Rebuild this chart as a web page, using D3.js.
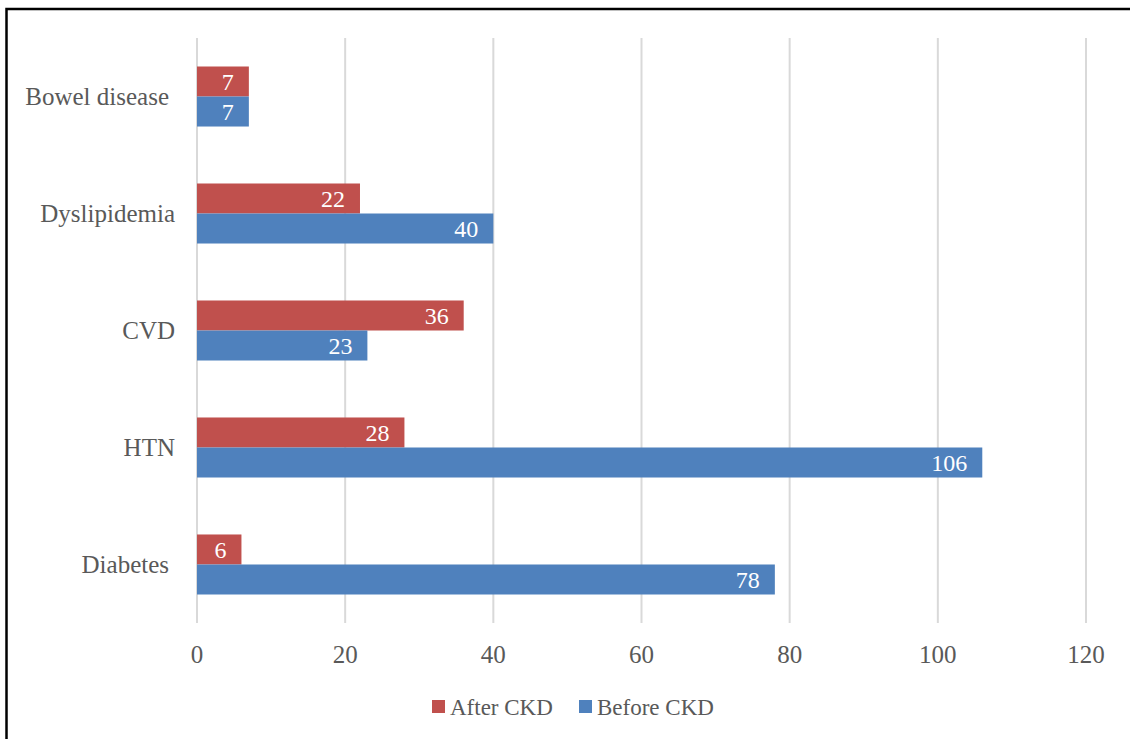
<!DOCTYPE html>
<html>
<head>
<meta charset="utf-8">
<script src="https://cdn.jsdelivr.net/npm/d3@7"></script>
<style>
  body { margin: 0; background: #fff; }
  svg text { font-family: "Liberation Serif", "Times New Roman", serif; }
</style>
</head>
<body>
<div id="chart"></div>
<script>
"use strict";

// categories from top to bottom, as drawn
var categories = ["Bowel disease", "Dyslipidemia", "CVD", "HTN", "Diabetes"];
var afterCKD = [7, 22, 36, 28, 6];
var beforeCKD = [7, 40, 23, 106, 78];
var seriesNames = ["After CKD", "Before CKD"];
var xTicks = [0, 20, 40, 60, 80, 100, 120];

var W = 1130, H = 739;
var colors = { "After CKD": "#C0504D", "Before CKD": "#4F81BD" };
var textColor = "#595959";

var svg = d3.select("#chart").append("svg")
  .attr("width", W)
  .attr("height", H);

// outer frame of the chart area (only left and top are visible in the picture)
svg.append("rect")
  .attr("x", 6.5)
  .attr("y", 9)
  .attr("width", W + 20)
  .attr("height", H + 20)
  .attr("fill", "none")
  .attr("stroke", "#000")
  .attr("stroke-width", 2.5);

var x = d3.scaleLinear()
  .domain([0, 120])
  .range([197, 1086]);

var y = d3.scaleBand()
  .domain(categories)
  .range([38, 623])
  .paddingInner(0.487)
  .paddingOuter(0.2436);

var yInner = d3.scaleBand()
  .domain(seriesNames)
  .range([0, y.bandwidth()]);

// gridlines
svg.append("g")
  .selectAll("line")
  .data(xTicks)
  .enter().append("line")
    .attr("x1", function(d) { return x(d); })
    .attr("x2", function(d) { return x(d); })
    .attr("y1", 38)
    .attr("y2", 623)
    .attr("stroke", "#D9D9D9")
    .attr("stroke-width", 2);

// tick labels
svg.append("g")
  .selectAll("text")
  .data(xTicks)
  .enter().append("text")
    .attr("x", function(d) { return x(d); })
    .attr("y", 663)
    .attr("text-anchor", "middle")
    .attr("font-size", "25px")
    .attr("fill", textColor)
    .text(function(d) { return d; });

// category labels
svg.append("g")
  .selectAll("text")
  .data(categories)
  .enter().append("text")
    .attr("x", function(d) { return (d === "Bowel disease" || d === "Diabetes") ? 169 : 175; })
    .attr("y", function(d) { return y(d) + y.bandwidth() / 2; })
    .attr("dy", "0.35em")
    .attr("text-anchor", "end")
    .attr("font-size", "25px")
    .attr("fill", textColor)
    .text(function(d) { return d; });

// build rows for bars
var rows = [];
categories.forEach(function(c, i) {
  rows.push({ cat: c, series: "After CKD", value: afterCKD[i] });
  rows.push({ cat: c, series: "Before CKD", value: beforeCKD[i] });
});

var bars = svg.append("g")
  .selectAll("g")
  .data(rows)
  .enter().append("g");

bars.append("rect")
  .attr("x", x(0))
  .attr("y", function(d) { return y(d.cat) + yInner(d.series); })
  .attr("width", function(d) { return x(d.value) - x(0); })
  .attr("height", yInner.bandwidth())
  .attr("fill", function(d) { return colors[d.series]; });

// value labels, inside end
bars.append("text")
  .attr("x", function(d) { return x(d.value) - 15; })
  .attr("y", function(d) { return y(d.cat) + yInner(d.series) + yInner.bandwidth() / 2; })
  .attr("dy", "0.35em")
  .attr("text-anchor", "end")
  .attr("font-size", "24px")
  .attr("fill", "#fff")
  .text(function(d) { return d.value; });

// legend
var legendX = { "After CKD": 432, "Before CKD": 579 };
var legend = svg.append("g")
  .selectAll("g")
  .data(seriesNames)
  .enter().append("g")
    .attr("transform", function(d) { return "translate(" + legendX[d] + ",700)"; });

legend.append("rect")
  .attr("width", 13)
  .attr("height", 13)
  .attr("fill", function(d) { return colors[d]; });

legend.append("text")
  .attr("x", 18)
  .attr("y", 15)
  .attr("font-size", "23px")
  .attr("fill", textColor)
  .text(function(d) { return d; });
</script>
</body>
</html>
